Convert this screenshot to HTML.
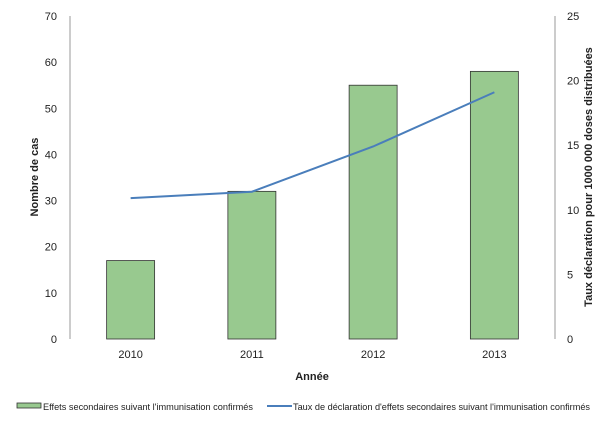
<!DOCTYPE html>
<html><head><meta charset="utf-8"><style>
body{margin:0;background:#fff;font-family:"Liberation Sans",sans-serif;}
svg text{font-family:"Liberation Sans",sans-serif;fill:#222;}
</style></head><body>
<svg width="600" height="418">
<g id="g"></g>
</svg>
<script>
const years=["2010","2011","2012","2013"];
const cases=[17,32,55,58];
const rates=[10.9,11.4,14.9,19.1];
const leftTicks=[0,10,20,30,40,50,60,70];
const rightTicks=[0,5,10,15,20,25];
const L=70,R=555,T=16,B=339;
const ns="http://www.w3.org/2000/svg";
const g=document.getElementById('g');
function mk(t,a,txt){const e=document.createElementNS(ns,t);for(const k in a)e.setAttribute(k,a[k]);if(txt!==undefined)e.textContent=txt;g.appendChild(e);return e;}
const yL=v=>B-(v/70)*(B-T);
const yR=v=>B-(v/25)*(B-T);
const bw=(R-L)/years.length;
const xC=i=>L+bw*(i+0.5);
let e;
e=mk('line',{x1:L,y1:T,x2:L,y2:B,stroke:'#999'});

e=mk('line',{x1:R,y1:T,x2:R,y2:B,stroke:'#999'});

leftTicks.forEach(v=>{e=mk('text',{x:L-13,y:yL(v)+4,'text-anchor':'end','font-size':11},v);
});
rightTicks.forEach(v=>{e=mk('text',{x:R+12,y:yR(v)+4,'text-anchor':'start','font-size':11},v);
});
cases.forEach((v,i)=>{e=mk('rect',{x:xC(i)-24,y:yL(v),width:48,height:B-yL(v),fill:'#98c98f',stroke:'#333','stroke-width':0.8});

e=mk('text',{x:xC(i),y:358,'text-anchor':'middle','font-size':11},years[i]);
});
e=mk('polyline',{points:rates.map((v,i)=>xC(i)+','+yR(v)).join(' '),fill:'none',stroke:'#4a7ebb','stroke-width':2});

e=mk('text',{x:312,y:380,'text-anchor':'middle','font-size':11,'font-weight':'bold'},'Année');

e=mk('text',{x:0,y:0,transform:'translate(38,177) rotate(-90)','text-anchor':'middle','font-size':11,'font-weight':'bold'},'Nombre de cas');

e=mk('text',{x:0,y:0,transform:'translate(592,177) rotate(-90)','text-anchor':'middle','font-size':11,'font-weight':'bold'},'Taux déclaration pour 1000 000 doses distribuées');

e=mk('rect',{x:17,y:403,width:24,height:5,fill:'#98c98f',stroke:'#333','stroke-width':0.8});

e=mk('text',{x:43,y:410,'font-size':9.5,'textLength':210,'lengthAdjust':'spacingAndGlyphs'},"Effets secondaires suivant l'immunisation confirmés");

e=mk('line',{x1:267,y1:406,x2:292,y2:406,stroke:'#4a7ebb','stroke-width':2});

e=mk('text',{x:293,y:410,'font-size':9.5,'textLength':297,'lengthAdjust':'spacingAndGlyphs'},"Taux de déclaration d'effets secondaires suivant l'immunisation confirmés");

</script>
</body></html>
